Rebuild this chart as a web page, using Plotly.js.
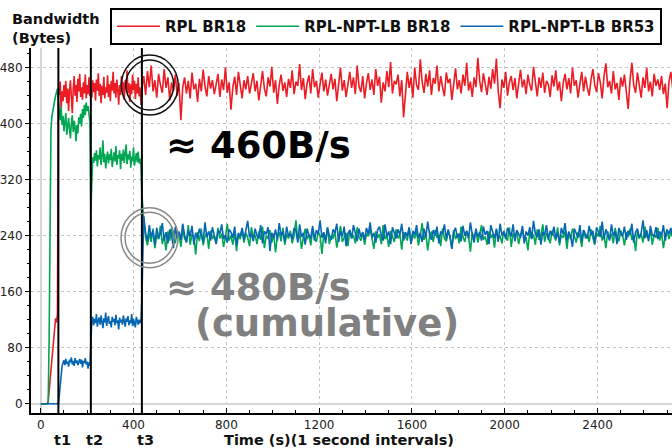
<!DOCTYPE html>
<html><head><meta charset="utf-8">
<script src="https://cdn.plot.ly/plotly-3.0.1.min.js"></script>
<style>html,body{margin:0;padding:0;background:#fff}#chart{width:672px;height:448px}</style>
</head><body><div id="chart"></div>
<script>
// ---- data ----
const seriesNames = ['RPL BR18', 'RPL-NPT-LB BR18', 'RPL-NPT-LB BR53'];
const eventTimes = [76, 216, 436];
const eventLabels = ['t1', 't2', 't3'];
// sampling grid of each phase (start time, seconds between samples)
const phaseStart = [0, 76, 216, 436];
const phaseStep = [4, 4, 4, 8];

const redPhase0 = [0,0,0,0,0,0,0,0,3,18,34,52,70,86,98,110,122,116,128];
const redPhase1 = [452,441,460,420,446,432,455,438,461,429,450,418,447,462,437,415,449,468,440,455,431,464,446,471,438,452,434,459,443,470,436,455,442,466,439];
const redPhase2 = [451,437,462,445,458,433,463,447,472,440,457,429,454,441,467,436,452,444,469,438,456,432,461,447,474,443,458,437,463,449,427,455,441,468,446,459,434,462,450,476,444,458,431,456,442,470,448,461,435,457,443,466,439,452,427];
const redPhase3 = [
449,468,441,475,452,483,446,462,437,471,455,444,478,451,466,433,459,447,470,440,
458,405,452,466,443,461,436,473,449,457,431,464,446,477,453,439,468,450,462,442,
456,471,438,463,448,480,444,459,420,452,467,441,474,455,436,462,449,468,443,457,
472,446,461,433,458,475,450,439,466,453,481,444,462,428,455,470,447,459,438,464,
451,476,442,460,454,485,448,465,435,457,469,443,478,452,461,437,456,473,446,463,
440,458,471,449,464,432,455,480,447,462,438,459,474,451,466,442,483,453,445,468,
436,457,472,448,463,441,478,454,467,430,459,446,475,452,488,443,461,456,470,439,
462,409,445,474,451,466,437,480,455,448,492,460,444,471,453,476,441,465,457,483,
446,468,452,439,473,458,464,434,456,479,449,462,443,470,454,487,447,460,438,466,
452,494,461,445,472,455,441,467,450,478,457,493,446,422,463,451,474,440,459,468,
448,465,436,457,477,452,463,442,470,455,447,481,458,439,466,451,473,444,461,456,
438,469,453,476,447,460,432,458,471,449,465,443,480,454,462,437,457,474,446,467,
451,440,463,478,455,445,472,459,436,468,486,452,461,443,475,449,458,434,466,453,
470,447,421,462,487,455,444,473,458,437,466,451,480,446,460,439,471,454,463,448,
468,442,457,422,460,474,450];

const greenPhase0 = [0,0,0,0,0,0,0,0,0,90,300,390,410,420,428,433,440,446,450];
const greenPhase1 = [432,418,405,424,398,411,389,402,415,384,397,408,392,379,401,412,388,404,395,375,398,386,409,400,414,396,421,408,427,412,430,418,425,410,402];
const greenPhase2 = [276,330,352,344,358,347,362,339,355,349,366,341,353,376,345,357,336,351,360,343,356,348,364,338,352,359,346,368,341,355,350,362,335,357,347,363,344,354,370,342,356,349,361,337,353,346,366,340,352,358,345,360,343,350,341];
const greenPhase3 = [
300,262,238,226,244,231,250,222,241,235,254,228,240,219,246,233,252,237,229,245,
240,224,248,236,231,255,227,242,238,213,245,232,250,226,239,244,221,247,235,241,
229,251,236,243,224,238,257,233,240,227,246,218,242,235,249,230,244,237,225,252,
238,241,228,246,234,253,222,240,236,248,230,243,216,239,245,232,251,227,242,236,
247,229,240,262,233,244,221,238,250,235,242,226,249,237,231,245,240,214,243,234,
251,228,240,236,246,223,242,254,231,239,244,225,248,236,241,229,252,238,233,245,
227,243,239,250,232,221,246,237,242,228,255,235,240,224,247,238,231,249,236,242,
220,245,238,233,251,229,242,236,247,226,240,258,234,243,219,239,246,231,248,237,
241,225,250,236,232,245,239,222,248,235,243,229,253,238,231,246,240,217,244,236,
248,230,241,255,234,239,227,246,237,242,223,250,235,240,229,247,238,233,252,224,
243,237,246,228,240,251,232,238,219,245,236,242,227,249,234,240,256,231,244,237,
229,247,239,233,252,226,241,237,246,221,243,235,250,238,230,245,240,224,248,236,
242,231,249,237,227,244,239,254,233,241,222,246,236,243,229,251,238,232,247,240,
226,245,238,250,234,241,218,247,236,243,230,253,239,235,248,227,242,237,251,233,
244,222,240,249,235,246,238];

const bluePhase0 = [0,0,0,0,0,0,0,0,0,0,0,0,0,0,0,0,0,0,0];
const bluePhase1 = [0,12,30,45,54,58,62,55,64,57,60,53,63,59,66,56,61,54,65,58,62,55,60,64,57,63,52,61,58,65,56,60,50,59,54];
const bluePhase2 = [95,118,124,112,121,115,128,110,119,123,113,126,117,108,122,116,130,111,120,125,114,118,109,124,117,121,112,127,115,119,106,123,116,120,113,126,118,110,122,117,125,112,119,115,128,111,121,116,109,124,118,113,120,115,119];
const bluePhase3 = [
150,268,244,232,255,238,247,226,251,236,243,258,233,245,229,249,240,222,253,237,
246,234,257,241,230,248,239,254,227,244,236,250,242,231,259,238,246,233,252,240,
228,247,243,256,235,241,230,249,245,237,253,226,244,239,251,234,247,261,238,243,
232,250,240,236,255,229,246,242,252,218,244,237,249,233,258,240,246,231,253,239,
243,235,251,247,230,256,238,244,227,250,241,236,254,233,248,242,262,237,245,229,
252,240,234,249,244,257,231,246,239,253,225,243,248,236,255,241,232,250,238,245,
234,251,242,259,237,244,230,248,253,240,233,256,239,246,228,252,243,236,249,241,
257,233,245,239,252,228,247,241,255,236,244,231,250,238,260,242,234,248,240,253,
229,246,243,256,235,249,239,221,245,251,237,243,232,254,240,247,236,259,242,230,
250,238,245,233,253,241,247,228,255,243,236,249,231,257,240,246,235,251,244,239,
256,232,248,242,237,254,229,246,240,252,235,261,243,238,249,227,245,241,255,234,
247,240,253,236,244,230,251,242,258,233,246,239,224,250,243,237,255,231,248,242,
236,254,241,247,229,252,244,238,260,235,249,242,233,256,240,246,228,251,243,239,
253,234,247,241,257,230,245,250,237,243,262,236,248,232,254,241,239,252,235,246,
240,255,233,248,243,251,238];

// annotation texts
const noteRpl = '≈ 460B/s';
const noteNpt = '≈ 480B/s';
const noteCum = '(cumulative)';
const yTitle = 'Bandwidth<br>(Bytes)';
const xTitle = 'Time (s)(1 second intervals)';
// highlighted points (time, bandwidth)
const circleRpl = [470, 455];
const circleNpt = [469, 237];

// ---- build ----
function buildSeries(phases) {
  const x = [], y = [];
  phases.forEach((vals, p) => vals.forEach((v, i) => {
    x.push(phaseStart[p] + i * phaseStep[p]);
    y.push(v);
  }));
  return {x, y};
}
const colors = ['#ec1c24', '#00a651', '#0566b4'];
const seriesData = [
  buildSeries([redPhase0, redPhase1, redPhase2, redPhase3]),
  buildSeries([greenPhase0, greenPhase1, greenPhase2, greenPhase3]),
  buildSeries([bluePhase0, bluePhase1, bluePhase2, bluePhase3])
];
const traces = seriesData.map((d, k) => ({
  type: 'scatter', mode: 'lines', name: seriesNames[k],
  x: d.x, y: d.y,
  line: {color: colors[k], width: 1.6}
}));

const F = 'DejaVu Sans';
const shapes = [];
eventTimes.forEach(t => shapes.push({
  type: 'line', xref: 'x', yref: 'paper', x0: t, x1: t, y0: 0, y1: 1,
  line: {color: '#000', width: 2}
}));
function ring(c, rx, ry, col) {
  return {type: 'circle', xref: 'x', yref: 'y', xsizemode: 'pixel', ysizemode: 'pixel',
    xanchor: c[0], yanchor: c[1], x0: -rx, x1: rx, y0: -ry, y1: ry,
    line: {color: col, width: 1.5}, fillcolor: 'rgba(0,0,0,0)'};
}
shapes.push(ring(circleRpl, 28.5, 30, '#111'), ring(circleRpl, 24, 25, '#111'));
shapes.push(ring(circleNpt, 28.5, 30, '#888'), ring(circleNpt, 24.5, 25.5, '#888'));

const annotations = [
  {text: yTitle, xref: 'paper', yref: 'paper', x: -0.033, y: 1.106, xanchor: 'left', yanchor: 'top',
   align: 'left', showarrow: false, font: {family: F, size: 14.5, weight: 'bold', color: '#111'}},
  {text: xTitle, xref: 'paper', yref: 'paper', x: 0.481, y: -0.074, xanchor: 'center', yanchor: 'middle',
   showarrow: false, font: {family: F, size: 14.5, weight: 'bold', color: '#111'}},
  {text: noteRpl, xref: 'paper', yref: 'paper', x: 0.208, y: 0.734, xanchor: 'left', yanchor: 'middle',
   showarrow: false, font: {family: F, size: 37, weight: 'bold', color: '#000'}},
  {text: noteNpt, xref: 'paper', yref: 'paper', x: 0.208, y: 0.345, xanchor: 'left', yanchor: 'middle',
   height: 36, valign: 'middle',
   showarrow: false, font: {family: F, size: 37, weight: 'bold', color: '#808080'}},
  {text: noteCum, xref: 'paper', yref: 'paper', x: 0.252, y: 0.247, xanchor: 'left', yanchor: 'middle',
   height: 36, valign: 'middle',
   showarrow: false, font: {family: F, size: 37, weight: 'bold', color: '#808080'}}
];
eventTimes.forEach((t, i) => annotations.push({
  text: eventLabels[i], xref: 'x', yref: 'paper', x: t, y: -0.074, xshift: 4,
  xanchor: 'center', yanchor: 'middle', showarrow: false,
  font: {family: F, size: 14.5, weight: 'bold', color: '#111'}
}));

const layout = {
  width: 672, height: 448,
  margin: {l: 31, r: 0, t: 48, b: 35, pad: 0},
  paper_bgcolor: '#fff', plot_bgcolor: '#fff',
  font: {family: F, size: 12, color: '#222'},
  showlegend: true,
  legend: {orientation: 'h', x: 0.1232, y: 1.1096, xanchor: 'left', yanchor: 'top',
    bordercolor: '#000', borderwidth: 2, bgcolor: '#fff',
    itemwidth: 43,
    font: {family: F, size: 15, weight: 'bold', color: '#111'}},
  xaxis: {range: [-42, 2721], tickmode: 'linear', tick0: 0, dtick: 400,
    showgrid: true, gridcolor: '#c4c4c4', griddash: 'dot', gridwidth: 1,
    zeroline: true, zerolinecolor: '#d6d6d6', zerolinewidth: 2,
    showline: true, linecolor: '#000', linewidth: 2,
    ticks: 'inside', ticklen: 5, tickcolor: '#000', tickwidth: 1,
    minor: {ticks: 'inside', ticklen: 3, dtick: 100, tickcolor: '#000', showgrid: false},
    tickfont: {family: F, size: 12, color: '#222'}},
  yaxis: {range: [-13.3, 508], tickmode: 'linear', tick0: 0, dtick: 80,
    showgrid: true, gridcolor: '#c4c4c4', griddash: 'dot', gridwidth: 1,
    zeroline: true, zerolinecolor: '#d6d6d6', zerolinewidth: 2,
    showline: true, linecolor: '#000', linewidth: 2,
    ticks: 'outside', ticklen: 4, tickcolor: '#000', tickwidth: 1,
    minor: {ticks: 'outside', ticklen: 2, dtick: 20, tickcolor: '#000', showgrid: false},
    tickfont: {family: F, size: 12, color: '#222'}},
  shapes: shapes,
  annotations: annotations
};
Plotly.newPlot('chart', traces, layout, {staticPlot: true, displayModeBar: false});
</script></body></html>
